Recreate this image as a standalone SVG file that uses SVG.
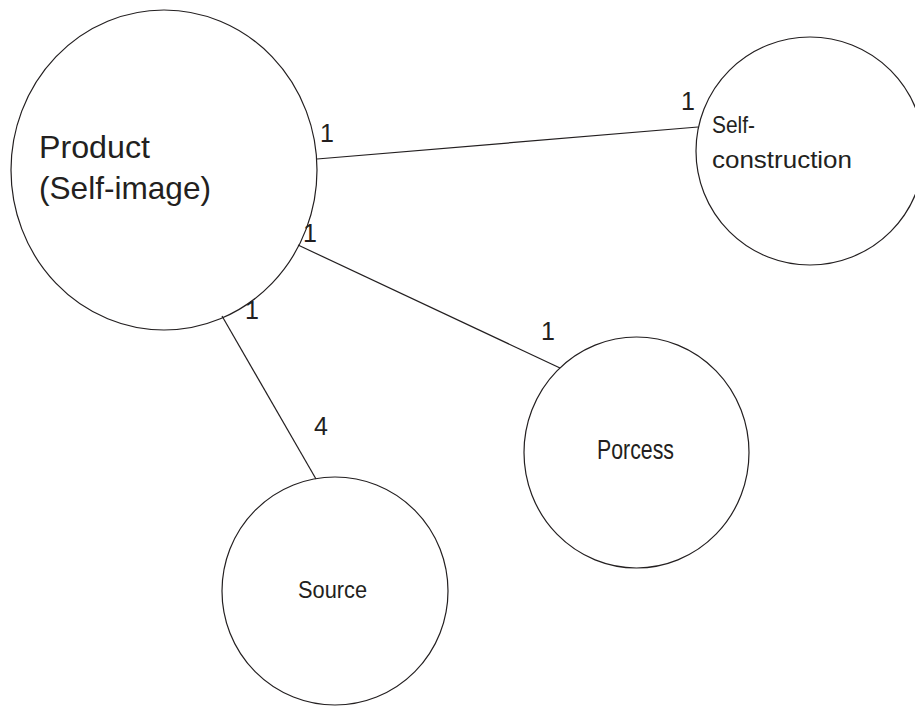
<svg xmlns="http://www.w3.org/2000/svg" width="915" height="706" viewBox="0 0 915 706">
<style>
.node{fill:#fff;stroke:#231f20;stroke-width:1.2}
.edge{stroke:#231f20;stroke-width:1.2;fill:none}
text{font-family:"Liberation Sans",Arial,sans-serif;fill:#231f20}
.lbl{font-size:25px;text-anchor:middle}
</style>
<rect width="915" height="706" fill="#fff"/>
<g id="product">
<ellipse class="node" cx="164" cy="170" rx="153" ry="160"/>
<text x="39" y="158" font-size="32" textLength="111" lengthAdjust="spacingAndGlyphs">Product</text>
<text x="39" y="199" font-size="32" textLength="172" lengthAdjust="spacingAndGlyphs">(Self-image)</text>
</g>
<g id="self-construction">
<circle class="node" cx="810" cy="151" r="114"/>
<text x="712" y="133" font-size="24" textLength="43" lengthAdjust="spacingAndGlyphs">Self-</text>
<text x="712" y="168" font-size="24" textLength="140" lengthAdjust="spacingAndGlyphs">construction</text>
</g>
<g id="porcess">
<ellipse class="node" cx="636.5" cy="452.5" rx="112.5" ry="115.5"/>
<text x="597" y="459" font-size="28" textLength="77" lengthAdjust="spacingAndGlyphs">Porcess</text>
</g>
<g id="source">
<ellipse class="node" cx="335" cy="591" rx="113" ry="114"/>
<text x="298" y="598" font-size="23" textLength="69" lengthAdjust="spacingAndGlyphs">Source</text>
</g>
<g id="connectors">
<line class="edge" x1="317" y1="159" x2="698" y2="127"/>
<line class="edge" x1="298" y1="245" x2="560" y2="368"/>
<line class="edge" x1="222" y1="316" x2="316" y2="479"/>
<text class="lbl" x="327" y="142">1</text>
<text class="lbl" x="688" y="110">1</text>
<text class="lbl" x="310" y="242">1</text>
<text class="lbl" x="252" y="319">1</text>
<text class="lbl" x="548" y="340">1</text>
<text class="lbl" x="321" y="435">4</text>
</g>
</svg>
